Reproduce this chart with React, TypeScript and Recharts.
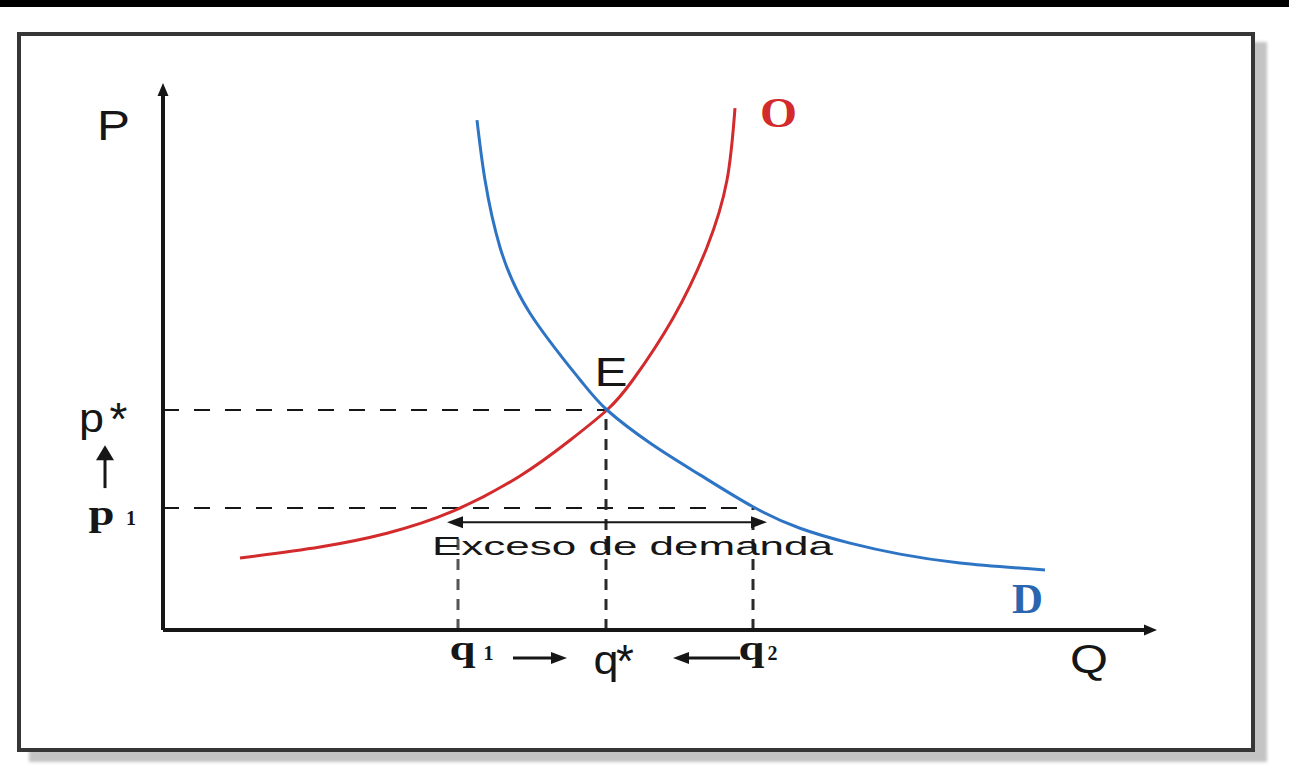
import React from 'react';
import { ComposedChart, Line, XAxis, YAxis, ReferenceLine, ReferenceDot } from 'recharts';

const W = 1289;
const H = 769;
// layout of the plotting frame (pixels)
const ORIGIN_X = 163;
const ORIGIN_Y = 630;
const PX_PER_Q = 10;
const PX_PER_P = 5.5;
const Q_DOMAIN: [number, number] = [-ORIGIN_X / PX_PER_Q, (W - ORIGIN_X) / PX_PER_Q];
const P_DOMAIN: [number, number] = [-(H - ORIGIN_Y) / PX_PER_P, ORIGIN_Y / PX_PER_P];

// Supply curve (O)
const supplyQ = [7.7, 15.7, 22.4, 29.0, 35.7, 40.7, 44.4, 47.0, 51.0, 54.4, 56.4, 57.2];
const supplyP = [13.1, 15.1, 17.6, 21.6, 28.0, 34.5, 40.0, 45.5, 56.7, 69.6, 81.8, 94.9];
// Demand curve (D)
const demandQ = [31.4, 32.2, 33.7, 36.7, 41.7, 44.4, 48.7, 53.7, 59.0, 63.7, 68.7, 73.7, 79.7, 88.2];
const demandP = [92.7, 81.8, 69.6, 57.6, 45.5, 40.0, 34.0, 28.2, 22.4, 18.5, 15.8, 13.8, 12.2, 10.9];

// key levels
const Q_AXIS_END = 99.4;
const P_AXIS_END = 99.45;
const qStar = 44.3;
const pStar = 40.0;
const q1 = 29.5;
const q2 = 59.0;
const p1 = 22.2;
const excessLevel = 19.6;
const excessFrom = 28.4;
const excessTo = 60.4;

// text labels
const axisLabels = { p: 'P', q: 'Q' };
const curveLabels = { supply: 'O', demand: 'D', eq: 'E' };
const excessText = 'Exceso de demanda';

const supply = supplyQ.map((q, i) => ({ q, p: supplyP[i] }));
const demand = demandQ.map((q, i) => ({ q, p: demandP[i] }));

const INK = '#161616';
const RED = '#d32a2c';
const BLUE = '#2e74c4';
const SANS = '"Liberation Sans", Arial, sans-serif';
const SERIF = '"Liberation Serif", "Times New Roman", serif';

type ArrowOpts = { both?: boolean; head?: boolean; len: number; wid: number; sw: number; color: string };
const arrowShape = (o: ArrowOpts) => (props: any) => {
  const { x1, y1, x2, y2 } = props;
  const a = Math.atan2(y2 - y1, x2 - x1);
  const tri = (x: number, y: number, ang: number) => {
    const bx = x - o.len * Math.cos(ang);
    const by = y - o.len * Math.sin(ang);
    const nx = (-Math.sin(ang) * o.wid) / 2;
    const ny = (Math.cos(ang) * o.wid) / 2;
    return `${x},${y} ${bx + nx},${by + ny} ${bx - nx},${by - ny}`;
  };
  const hasHead = o.head !== false;
  const ex = hasHead ? x2 - o.len * 0.8 * Math.cos(a) : x2;
  const ey = hasHead ? y2 - o.len * 0.8 * Math.sin(a) : y2;
  const sx = o.both ? x1 + o.len * 0.8 * Math.cos(a) : x1;
  const sy = o.both ? y1 + o.len * 0.8 * Math.sin(a) : y1;
  return (
    <g>
      <line x1={sx} y1={sy} x2={ex} y2={ey} stroke={o.color} strokeWidth={o.sw} />
      {hasHead && <polygon points={tri(x2, y2, a)} fill={o.color} />}
      {o.both && <polygon points={tri(x1, y1, a + Math.PI)} fill={o.color} />}
    </g>
  );
};

const textShape =
  (text: string, font: string, size: number, color: string, width: number, weight = 400) =>
  (props: any) => (
    <text
      x={props.cx}
      y={props.cy}
      textAnchor="middle"
      fontFamily={font}
      fontSize={size}
      fontWeight={weight}
      fill={color}
      textLength={width}
      lengthAdjust="spacingAndGlyphs"
    >
      {text}
    </text>
  );

const starShape = (main: string, mainDx: number, starDx: number) => (props: any) => {
  const { cx, cy } = props;
  return (
    <g fill={INK} fontFamily={SANS}>
      <text x={cx + mainDx} y={cy} fontSize={40} textAnchor="middle" textLength={25} lengthAdjust="spacingAndGlyphs">
        {main}
      </text>
      <text x={cx + starDx} y={cy + 3} fontSize={46} textAnchor="middle">
        *
      </text>
    </g>
  );
};

const subShape = (main: string, sub: string, subDx: number) => (props: any) => {
  const { cx, cy } = props;
  return (
    <g fill={INK} fontFamily={SERIF} fontWeight={700}>
      <text x={cx} y={cy} fontSize={36} textAnchor="middle" textLength={26} lengthAdjust="spacingAndGlyphs">
        {main}
      </text>
      <text x={cx + subDx} y={cy} fontSize={20} textAnchor="middle">
        {sub}
      </text>
    </g>
  );
};

export default function App() {
  return (
    <div style={{ position: 'absolute', left: 0, top: 0, width: W, height: H, background: '#fff', overflow: 'hidden' }}>
      <div style={{ position: 'absolute', left: 0, top: 0, width: W, height: 7, background: '#000' }} />
      <div
        style={{
          position: 'absolute',
          left: 17,
          top: 32,
          width: 1238,
          height: 720,
          boxSizing: 'border-box',
          border: '4px solid #363636',
          boxShadow: '12px 10px 3px #c4c4c4',
          background: '#fff',
        }}
      />
      <div style={{ position: 'absolute', left: 0, top: 0 }}>
        <ComposedChart width={W} height={H} margin={{ top: 0, right: 0, bottom: 0, left: 0 }}>
          <XAxis type="number" dataKey="q" domain={Q_DOMAIN} hide allowDataOverflow />
          <YAxis type="number" dataKey="p" domain={P_DOMAIN} hide allowDataOverflow />

          {/* dashed guides */}
          <ReferenceLine segment={[{ x: 0, y: pStar }, { x: qStar, y: pStar }]} stroke={INK} strokeWidth={2} strokeDasharray="16 15" />
          <ReferenceLine segment={[{ x: 0, y: p1 }, { x: q2, y: p1 }]} stroke={INK} strokeWidth={2} strokeDasharray="16 15" />
          <ReferenceLine segment={[{ x: qStar, y: 0 }, { x: qStar, y: pStar }]} stroke="#2a2a2a" strokeWidth={3} strokeDasharray="11 9" />
          <ReferenceLine segment={[{ x: q1, y: 0 }, { x: q1, y: excessLevel - 1.5 }]} stroke="#555" strokeWidth={3} strokeDasharray="11 9" />
          <ReferenceLine segment={[{ x: q2, y: 0 }, { x: q2, y: p1 }]} stroke="#2a2a2a" strokeWidth={3} strokeDasharray="11 9" />

          {/* curves */}
          <Line data={supply} dataKey="p" type="natural" stroke={RED} strokeWidth={3} dot={false} activeDot={false} isAnimationActive={false} />
          <Line data={demand} dataKey="p" type="natural" stroke={BLUE} strokeWidth={3} dot={false} activeDot={false} isAnimationActive={false} />

          {/* excess demand double arrow */}
          <ReferenceLine
            segment={[{ x: excessFrom, y: excessLevel }, { x: excessTo, y: excessLevel }]}
            shape={arrowShape({ both: true, len: 16, wid: 12, sw: 2, color: INK })}
          />

          {/* axes with arrows */}
          <ReferenceLine
            segment={[{ x: 0, y: 0 }, { x: 0, y: P_AXIS_END }]}
            shape={arrowShape({ len: 13, wid: 11, sw: 4, color: INK })}
          />
          <ReferenceLine
            segment={[{ x: 0, y: 0 }, { x: Q_AXIS_END, y: 0 }]}
            shape={arrowShape({ len: 13, wid: 11, sw: 4, color: INK })}
          />

          {/* adjustment arrows */}
          <ReferenceLine
            segment={[{ x: -5.8, y: 25.8 }, { x: -5.8, y: 33.6 }]}
            shape={arrowShape({ len: 15, wid: 18, sw: 3, color: INK })}
          />
          <ReferenceLine
            segment={[{ x: 35.0, y: -5.1 }, { x: 40.4, y: -5.1 }]}
            shape={arrowShape({ len: 16, wid: 12, sw: 3, color: INK })}
          />
          <ReferenceLine
            segment={[{ x: 57.7, y: -5.1 }, { x: 51.0, y: -5.1 }]}
            shape={arrowShape({ len: 16, wid: 12, sw: 3, color: INK })}
          />

          {/* labels */}
          <ReferenceDot x={-4.95} y={89.1} r={0} shape={textShape(axisLabels.p, SANS, 42, INK, 33)} />
          <ReferenceDot x={92.6} y={-7.8} r={0} shape={textShape(axisLabels.q, SANS, 40, INK, 38)} />
          <ReferenceDot x={44.8} y={44.4} r={0} shape={textShape(curveLabels.eq, SANS, 40, INK, 33)} />
          <ReferenceDot x={61.55} y={91.45} r={0} shape={textShape(curveLabels.supply, SERIF, 42, RED, 37, 700)} />
          <ReferenceDot x={86.45} y={3.1} r={0} shape={textShape(curveLabels.demand, SERIF, 42, '#2a66b0', 31, 700)} />
          <ReferenceDot x={46.95} y={13.6} r={0} shape={textShape(excessText, SANS, 25, INK, 401)} />
          <ReferenceDot x={-5.9} y={36.0} r={0} shape={starShape('p', -12.5, 14.5)} />
          <ReferenceDot x={45.1} y={-8.0} r={0} shape={starShape('q', -8, 11)} />
          <ReferenceDot x={-6.15} y={19.1} r={0} shape={subShape('p', '1', 29.5)} />
          <ReferenceDot x={29.95} y={-5.45} r={0} shape={subShape('q', '1', 26)} />
          <ReferenceDot x={58.85} y={-5.45} r={0} shape={subShape('q', '2', 21)} />
        </ComposedChart>
      </div>
    </div>
  );
}
